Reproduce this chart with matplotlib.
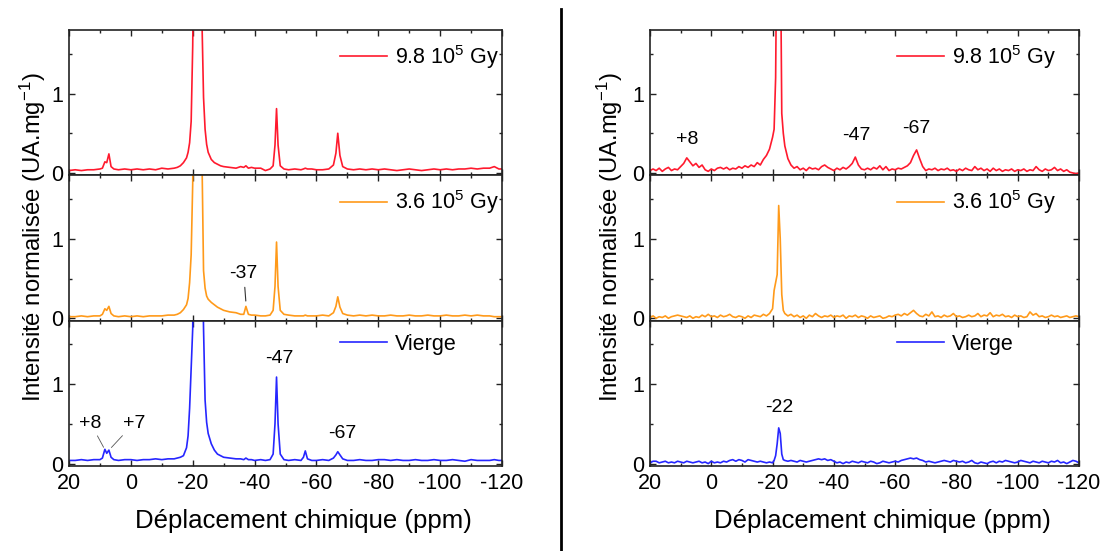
import matplotlib
matplotlib.use('Agg')
import matplotlib.pyplot as plt
from matplotlib.ticker import MultipleLocator
from matplotlib.lines import Line2D

plt.rcParams['font.family'] = ['Liberation Sans', 'DejaVu Sans']
plt.rcParams['mathtext.fontset'] = 'custom'
plt.rcParams['mathtext.rm'] = 'Liberation Sans'
plt.rcParams['mathtext.it'] = 'Liberation Sans:italic'
plt.rcParams['mathtext.bf'] = 'Liberation Sans:bold'
plt.rcParams['axes.unicode_minus'] = False

# ---------------- data ----------------
labels = ['9.8 10$^5$ Gy', '3.6 10$^5$ Gy', 'Vierge']
colors = ['#FF1A2E', '#FF9A1A', '#2626FF']

# left column (first spectrum series)
ppm_L = [20, 18, 16, 14, 12, 10, 9.2, 8.4, 7.8, 7.1,
         6.4, 5.5, 4, 2, 0, -2, -4, -6, -8, -10,
         -12, -14, -15, -16, -17, -18, -18.5, -19, -19.5, -20,
         -20.5, -21, -21.5, -22, -22.5, -23, -23.5, -24, -24.5, -25,
         -26, -27, -28, -29, -30, -32, -34, -35.5, -36.5, -37.2,
         -38, -39, -40, -42, -43.5, -45, -46, -46.6, -47.1, -47.6,
         -48.3, -49.5, -51, -53, -55, -55.8, -56.4, -57.1, -58.5, -60,
         -62, -64, -65.5, -66.3, -66.9, -67.6, -68.5, -70, -72, -74,
         -76, -78, -80, -82, -84, -86, -88, -90, -92, -94,
         -96, -98, -100, -102, -104, -106, -108, -110, -112, -114,
         -116, -117.5, -119, -120]

red_L = [0.03, 0.04, 0.03, 0.04, 0.04, 0.05, 0.06, 0.14, 0.13, 0.24,
         0.08, 0.05, 0.04, 0.05, 0.04, 0.05, 0.04, 0.05, 0.04, 0.06,
         0.05, 0.06, 0.07, 0.09, 0.13, 0.19, 0.26, 0.38, 0.65, 1.6,
         3.5, 5.5, 6.5, 6.0, 4.5, 1.9, 0.95, 0.55, 0.36, 0.26,
         0.17, 0.13, 0.11, 0.09, 0.08, 0.07, 0.06, 0.08, 0.07, 0.09,
         0.06, 0.07, 0.06, 0.06, 0.03, 0.05, 0.09, 0.35, 0.81, 0.35,
         0.09, 0.05, 0.04, 0.05, 0.04, 0.05, 0.06, 0.05, 0.05, 0.04,
         0.04, 0.05, 0.10, 0.25, 0.50, 0.22, 0.08, 0.05, 0.04, 0.05,
         0.04, 0.05, 0.04, 0.05, 0.04, 0.03, 0.04, 0.05, 0.04, 0.03,
         0.04, 0.05, 0.04, 0.05, 0.04, 0.05, 0.05, 0.06, 0.05, 0.06,
         0.06, 0.08, 0.05, 0.05]

orange_L = [0.02, 0.02, 0.03, 0.02, 0.03, 0.03, 0.05, 0.12, 0.10, 0.15,
            0.06, 0.03, 0.02, 0.03, 0.02, 0.03, 0.02, 0.03, 0.03, 0.03,
            0.04, 0.04, 0.05, 0.07, 0.11, 0.17, 0.25, 0.45, 0.8, 1.7,
            3.5, 5.5, 6.5, 6.0, 4.8, 2.0, 0.6, 0.38, 0.28, 0.24,
            0.20, 0.17, 0.14, 0.12, 0.10, 0.08, 0.07, 0.05, 0.05, 0.15,
            0.05, 0.04, 0.04, 0.03, 0.03, 0.04, 0.10, 0.40, 0.96, 0.40,
            0.10, 0.05, 0.04, 0.03, 0.03, 0.03, 0.04, 0.03, 0.03, 0.03,
            0.04, 0.03, 0.07, 0.15, 0.27, 0.14, 0.06, 0.04, 0.03, 0.04,
            0.03, 0.04, 0.03, 0.03, 0.04, 0.03, 0.03, 0.04, 0.03, 0.03,
            0.04, 0.03, 0.03, 0.04, 0.03, 0.03, 0.04, 0.03, 0.04, 0.03,
            0.03, 0.02, 0.02, 0.02]

blue_L = [0.04, 0.04, 0.05, 0.04, 0.05, 0.05, 0.07, 0.18, 0.13, 0.17,
          0.08, 0.05, 0.04, 0.05, 0.05, 0.04, 0.05, 0.05, 0.06, 0.05,
          0.06, 0.06, 0.07, 0.08, 0.10, 0.20, 0.35, 0.70, 1.2, 1.7,
          3.5, 5.5, 6.5, 6.5, 5.5, 3.0, 1.7, 0.80, 0.52, 0.38,
          0.25, 0.17, 0.12, 0.10, 0.08, 0.07, 0.06, 0.06, 0.05, 0.07,
          0.05, 0.05, 0.04, 0.05, 0.04, 0.05, 0.12, 0.50, 1.09, 0.50,
          0.12, 0.05, 0.04, 0.05, 0.04, 0.08, 0.16, 0.06, 0.04, 0.04,
          0.05, 0.04, 0.07, 0.11, 0.15, 0.11, 0.06, 0.04, 0.04, 0.05,
          0.04, 0.04, 0.05, 0.05, 0.04, 0.05, 0.04, 0.04, 0.05, 0.04,
          0.04, 0.05, 0.04, 0.04, 0.05, 0.04, 0.03, 0.05, 0.04, 0.04,
          0.04, 0.05, 0.04, 0.04]

# right column (second spectrum series)
ppm_R = [20, 19, 18, 17, 16, 15, 14, 13, 12, 11,
         10, 9, 8, 7, 6, 5, 4, 3, 2, 1,
         0, -1, -2, -3, -4, -5, -6, -7, -8, -9,
         -10, -11, -12, -13, -14, -15, -16, -17, -18, -19,
         -20, -20.5, -21, -21.5, -22, -22.5, -23, -23.5, -24,
         -25, -26, -27, -28, -29, -30, -31, -32, -33, -34,
         -35, -36, -37, -38, -39, -40, -41, -42, -43, -44,
         -45, -46, -47, -48, -49, -50, -51, -52, -53, -54,
         -55, -56, -57, -58, -59, -60, -61, -62, -63, -64,
         -65, -66, -67, -68, -69, -70, -71, -72, -73, -74,
         -75, -76, -77, -78, -79, -80, -81, -82, -83, -84,
         -85, -86, -87, -88, -89, -90, -91, -92, -93, -94,
         -95, -96, -97, -98, -99, -100, -101, -102, -103, -104,
         -105, -106, -107, -108, -109, -110, -111, -112, -113, -114,
         -115, -116, -117, -118, -119, -120]

red_R = [0.03, 0.05, 0.03, 0.06, 0.02, 0.05, 0.07, 0.03, 0.05, 0.04,
         0.08, 0.12, 0.19, 0.14, 0.09, 0.12, 0.07, 0.10, 0.04, 0.02,
         0.05, 0.03, 0.06, 0.07, 0.05, 0.07, 0.04, 0.06, 0.05, 0.08,
         0.06, 0.09, 0.07, 0.10, 0.08, 0.13, 0.10, 0.17, 0.22, 0.30,
         0.45, 0.55, 1.2, 3.5, 4.5, 3.2, 0.75, 0.50, 0.34,
         0.18, 0.10, 0.06, 0.08, 0.04, 0.06, 0.03, 0.07, 0.05, 0.06,
         0.04, 0.08, 0.10, 0.07, 0.05, 0.03, 0.06, 0.04, 0.07, 0.05,
         0.08, 0.12, 0.20, 0.10, 0.05, 0.04, 0.06, 0.04, 0.07, 0.05,
         0.09, 0.04, 0.08, 0.03, 0.05, 0.04, 0.06, 0.05, 0.07, 0.09,
         0.13, 0.22, 0.29, 0.18, 0.08, 0.03, 0.05, 0.04, 0.06, 0.03,
         0.05, 0.04, 0.06, 0.03, 0.04, 0.02, 0.05, 0.03, 0.06, 0.04,
         0.03, 0.08, 0.04, 0.06, 0.03, 0.05, 0.02, 0.06, 0.03, 0.05,
         0.02, 0.04, 0.03, 0.05, 0.02, 0.04, 0.03, 0.05, 0.02, 0.04,
         0.03, 0.08, 0.04, 0.02, 0.05, 0.03, 0.04, 0.07, 0.03, 0.05,
         0.02, 0.04, 0.01, 0.00, -0.01, 0.00]

orange_R = [0.01, 0.03, 0.00, 0.02, 0.01, 0.03, 0.00, 0.02, 0.03, 0.04,
            0.03, 0.02, 0.01, 0.03, 0.00, 0.02, 0.01, 0.04, 0.02, 0.05,
            0.02, 0.03, 0.01, 0.04, 0.02, 0.03, 0.05, 0.02, 0.01, 0.03,
            0.02, 0.00, 0.03, 0.01, 0.04, 0.03, 0.02, 0.05, 0.03, 0.06,
            0.12, 0.35, 0.45, 0.55, 1.42, 1.00, 0.30, 0.10, 0.06,
            0.03, 0.05, 0.02, 0.04, 0.01, 0.03, 0.00, 0.04, 0.02, 0.06,
            0.03, 0.01, 0.03, 0.02, 0.04, 0.01, 0.03, 0.02, 0.04, 0.00,
            0.03, 0.02, 0.04, 0.01, 0.03, 0.02, 0.00, 0.03, 0.01, 0.02,
            0.03, 0.00, 0.01, 0.03, 0.02, 0.04, 0.05, 0.03, 0.06, 0.04,
            0.07, 0.10, 0.06, 0.03, 0.02, 0.05, 0.03, 0.08, 0.02, 0.03,
            0.01, 0.04, 0.02, 0.03, 0.06, 0.02, 0.03, 0.01, 0.02, 0.04,
            0.02, 0.03, 0.06, 0.02, 0.04, 0.03, 0.07, 0.02, 0.04, 0.03,
            0.05, 0.02, 0.03, 0.01, 0.04, 0.02, 0.03, 0.01, 0.02, 0.08,
            0.04, 0.06, 0.02, 0.03, 0.01, 0.02, 0.04, 0.02, 0.03, 0.01,
            0.02, 0.03, 0.01, 0.02, 0.03, 0.02]

blue_R = [0.01, 0.03, 0.03, 0.01, 0.02, 0.03, 0.01, 0.02, 0.01, 0.03,
          0.02, 0.01, 0.03, 0.02, 0.01, 0.02, 0.03, 0.01, 0.02, 0.00,
          0.03, 0.01, 0.02, 0.01, 0.03, 0.02, 0.04, 0.05, 0.03, 0.05,
          0.04, 0.02, 0.05, 0.04, 0.03, 0.02, 0.03, 0.02, 0.01, 0.02,
          0.01, 0.04, 0.10, 0.25, 0.45, 0.38, 0.12, 0.05, 0.04,
          0.03, 0.04, 0.03, 0.02, 0.04, 0.03, 0.02, 0.03, 0.04, 0.05,
          0.06, 0.05, 0.06, 0.04, 0.05, 0.03, 0.01, 0.02, 0.00, 0.02,
          0.01, 0.03, 0.02, 0.01, 0.03, 0.02, 0.01, 0.03, 0.02, 0.00,
          0.01, 0.03, 0.02, 0.01, 0.02, 0.03, 0.02, 0.04, 0.05, 0.06,
          0.07, 0.06, 0.07, 0.05, 0.04, 0.02, 0.03, 0.02, 0.01, 0.02,
          0.03, 0.04, 0.03, 0.02, 0.04, 0.03, 0.02, 0.03, 0.01, 0.02,
          0.04, 0.01, 0.00, 0.02, 0.01, 0.00, 0.02, 0.03, 0.01, 0.03,
          0.02, 0.04, 0.03, 0.02, 0.01, 0.02, 0.04, 0.03, 0.02, 0.01,
          0.03, 0.02, 0.01, 0.03, 0.02, 0.01, 0.03, 0.02, 0.04, 0.01,
          0.02, 0.00, 0.02, 0.04, 0.03, 0.01]

x_ticks_major = 20
x_ticks_minor = 10
x_range = (20, -120)
y_range = (-0.03, 1.8)

# ---------------- layout ----------------
W, H = 1104, 551
fig = plt.figure(figsize=(W / 100, H / 100), dpi=100)


def fx(px):
    return px / W


def fy(py):
    return 1 - py / H


top, bot = 30, 466
ph = (bot - top) / 3
cols = [(69, 502), (650, 1079)]

data = [
    [(ppm_L, red_L), (ppm_L, orange_L), (ppm_L, blue_L)],
    [(ppm_R, red_R), (ppm_R, orange_R), (ppm_R, blue_R)],
]
legend_x = [0.626, 0.575]
ylabel_off = [36, 40]
spine_col = '#222222'
tick_fs = 15.5
axes = {}
for c, (x0, x1) in enumerate(cols):
    for i in range(3):
        ax = fig.add_axes([fx(x0), fy(top + (i + 1) * ph), (x1 - x0) / W, ph / H])
        axes[(c, i)] = ax
        xs, ys = data[c][i]
        assert len(xs) == len(ys), (c, i, len(xs), len(ys))
        ax.plot(xs, ys, color=colors[i], lw=1.2, label=labels[i])
        ax.set_xlim(*x_range)
        ax.set_ylim(*y_range)
        ax.xaxis.set_major_locator(MultipleLocator(x_ticks_major))
        ax.xaxis.set_minor_locator(MultipleLocator(x_ticks_minor))
        ax.yaxis.set_major_locator(MultipleLocator(1))
        ax.yaxis.set_minor_locator(MultipleLocator(0.5))
        ax.tick_params(which='both', direction='in', top=True, right=True,
                       width=1, color=spine_col, labelsize=tick_fs)
        ax.tick_params(which='major', length=4.5)
        ax.tick_params(which='minor', length=2.5)
        ax.tick_params(axis='y', pad=4)
        ax.tick_params(axis='x', pad=5)
        for s in ax.spines.values():
            s.set_color(spine_col)
            s.set_linewidth(1.2)
        if i < 2:
            ax.tick_params(axis='x', labelbottom=False)
        else:
            ax.set_xlabel('Déplacement chimique (ppm)', fontsize=18.5, labelpad=11,
                          x=0.5 + 18 / (x1 - x0))
        ax.legend(loc='upper left', bbox_to_anchor=(legend_x[c], 1 - 13 / ph),
                  frameon=False, fontsize=15.5, handlelength=2.2,
                  handletextpad=0.35, borderpad=0, borderaxespad=0)

    fig.text(fx(x0 - ylabel_off[c]), fy(237), 'Intensité normalisée (UA.mg$^{-1}$)',
             rotation=90, ha='center', va='center', fontsize=17.2)

# annotations
ann_fs = 14
ax = axes[(0, 1)]
ax.annotate('-37', xy=(-37.2, 0.2), xytext=(-36.5, 0.46), ha='center', va='bottom',
            fontsize=ann_fs, arrowprops=dict(arrowstyle='-', lw=0.8, color='#333333',
                                             shrinkA=2, shrinkB=1))
ax = axes[(0, 2)]
ax.text(-48, 1.22, '-47', ha='center', va='bottom', fontsize=ann_fs)
ax.text(-68.5, 0.27, '-67', ha='center', va='bottom', fontsize=ann_fs)
ax.annotate('+8', xy=(8.6, 0.19), xytext=(13, 0.4), ha='center', va='bottom',
            fontsize=ann_fs, arrowprops=dict(arrowstyle='-', lw=0.6, color='#555555',
                                             shrinkA=1, shrinkB=1))
ax.annotate('+7', xy=(6.6, 0.19), xytext=(-1, 0.4), ha='center', va='bottom',
            fontsize=ann_fs, arrowprops=dict(arrowstyle='-', lw=0.6, color='#555555',
                                             shrinkA=1, shrinkB=1))
ax = axes[(1, 0)]
ax.text(7.9, 0.31, '+8', ha='center', va='bottom', fontsize=ann_fs)
ax.text(-47.2, 0.36, '-47', ha='center', va='bottom', fontsize=ann_fs)
ax.text(-67.0, 0.45, '-67', ha='center', va='bottom', fontsize=ann_fs)
ax = axes[(1, 2)]
ax.text(-22.1, 0.6, '-22', ha='center', va='bottom', fontsize=ann_fs)

# separator line between the two figures
fig.add_artist(Line2D([fx(561), fx(561)], [0, fy(9)], transform=fig.transFigure,
                      color='black', lw=2))

fig.savefig('out.png', dpi=100)
